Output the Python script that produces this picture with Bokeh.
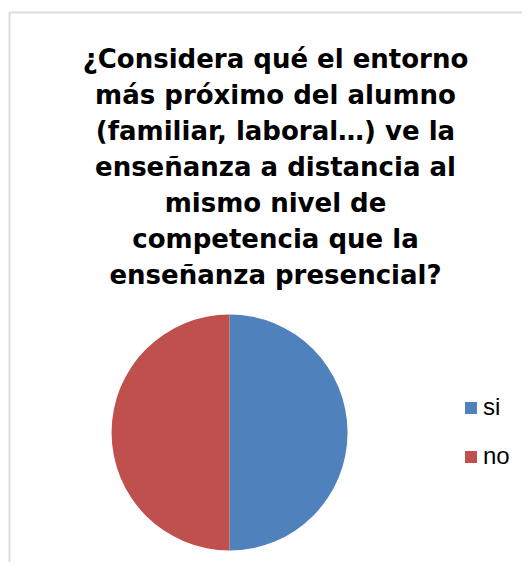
import math
from bokeh.plotting import figure
from bokeh.models import ColumnDataSource, Label, Legend, LegendItem, Range1d, BoxAnnotation
from bokeh.embed import file_html
from bokeh.resources import INLINE

# data
categories = ["si", "no"]
values = [50, 50]
colors = ["#4F81BD", "#C0504D"]
title_lines = [
    "¿Considera qué el entorno",
    "más próximo del alumno",
    "(familiar, laboral…) ve la",
    "enseñanza a distancia al",
    "mismo nivel de",
    "competencia que la",
    "enseñanza presencial?",
]

W, H = 522, 562
p = figure(width=W, height=H, output_backend="svg", toolbar_location=None,
           x_range=Range1d(0, W), y_range=Range1d(0, H),
           x_axis_location=None, y_axis_location=None, min_border=0)
p.grid.visible = False
p.outline_line_color = None
p.background_fill_color = "white"
p.border_fill_color = "white"

# chart border (left/top visible only)
p.add_layout(BoxAnnotation(left=9, right=W + 50, top=H - 12, bottom=-50,
                           fill_color=None, line_color="#8a8a8a", line_width=2))

# pie wedges: clockwise from 12 o'clock
total = sum(values)
starts, ends = [], []
acc = 0.0
for v in values:
    a0 = math.pi / 2 - 2 * math.pi * acc / total
    acc += v
    a1 = math.pi / 2 - 2 * math.pi * acc / total
    starts.append(a1)
    ends.append(a0)

cx, cy, r = 229, H - 432, 118
src = ColumnDataSource(dict(cat=categories, val=values, start=starts, end=ends, color=colors,
                            x=[cx] * len(values), y=[cy] * len(values)))
wr = p.wedge(x="x", y="y", radius=r, start_angle="start", end_angle="end",
             fill_color="color", line_color=None, source=src)

legend = Legend(items=[LegendItem(label=c, renderers=[wr], index=i) for i, c in enumerate(categories)],
                location=(463, 91), glyph_width=15, glyph_height=15, label_height=30,
                spacing=19, label_standoff=5, padding=0, margin=0,
                label_text_font="Liberation Sans", label_text_font_size="24px",
                label_text_color="black", border_line_color=None, background_fill_alpha=0)
p.add_layout(legend, "center")

# title lines
base0 = 58
step = 36
for i, t in enumerate(title_lines):
    p.add_layout(Label(x=275, y=H - (base0 + i * step), text=t, text_align="center",
                       text_baseline="alphabetic", text_font="DejaVu Sans",
                       text_font_style="bold", text_font_size="26px", text_color="black"))

open("out.html", "w").write(file_html(p, INLINE))
